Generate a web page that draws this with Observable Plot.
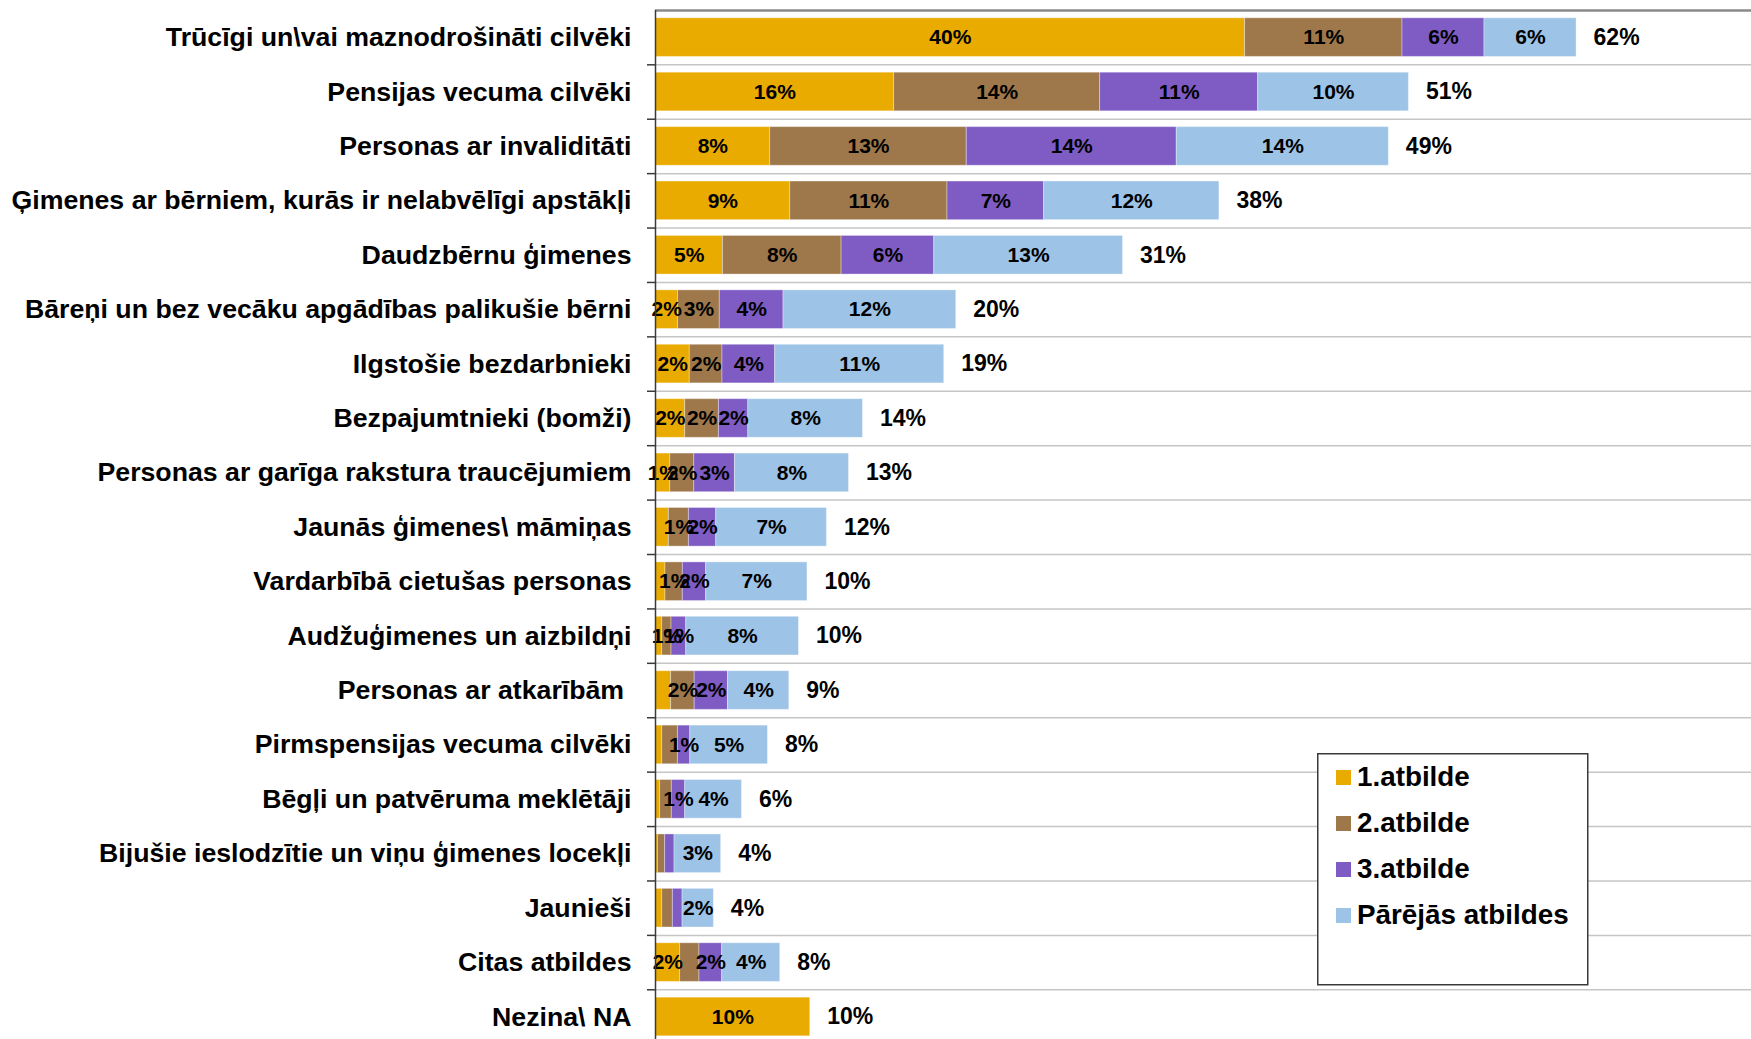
<!DOCTYPE html>
<html><head><meta charset="utf-8">
<script src="https://cdn.jsdelivr.net/npm/d3@7"></script>
<script src="https://cdn.jsdelivr.net/npm/@observablehq/plot@0.6"></script>
<style>
body{margin:0;background:#fff;}
#chart{position:relative;width:1751px;height:1039px;overflow:hidden;background:#fff;}
#legend{position:absolute;left:1317px;top:753px;}
</style></head><body><div id="chart"></div>
<script>
const categories = [
  "Trūcīgi un\\vai maznodrošināti cilvēki",
  "Pensijas vecuma cilvēki",
  "Personas ar invaliditāti",
  "Ģimenes ar bērniem, kurās ir nelabvēlīgi apstākļi",
  "Daudzbērnu ģimenes",
  "Bāreņi un bez vecāku apgādības palikušie bērni",
  "Ilgstošie bezdarbnieki",
  "Bezpajumtnieki (bomži)",
  "Personas ar garīga rakstura traucējumiem",
  "Jaunās ģimenes\\ māmiņas",
  "Vardarbībā cietušas personas",
  "Audžuģimenes un aizbildņi",
  "Personas ar atkarībām\u00a0",
  "Pirmspensijas vecuma cilvēki",
  "Bēgļi un patvēruma meklētāji",
  "Bijušie ieslodzītie un viņu ģimenes locekļi",
  "Jaunieši",
  "Citas atbildes",
  "Nezina\\ NA"
];
const seriesNames = ["1.atbilde", "2.atbilde", "3.atbilde", "Pārējās atbildes"];
const colors = ["#EAAB00", "#9E784B", "#7E5CC4", "#9DC3E6"];

const answer1      = [39.70, 16.07,  7.72,  9.07,  4.54,  1.52, 2.31, 2.00, 0.99, 0.90, 0.67, 0.45, 1.05, 0.45, 0.31, 0.16, 0.45, 1.66, 10.42];
const answer2      = [10.60, 13.87, 13.24, 10.59,  7.99,  2.81, 2.20, 2.27, 1.62, 1.35, 1.17, 0.63, 1.59, 1.06, 0.79, 0.49, 0.72, 1.30, 0];
const answer3      = [ 5.52, 10.64, 14.14,  6.51,  6.24,  4.29, 3.55, 1.98, 2.74, 1.84, 1.57, 0.99, 2.24, 0.83, 0.90, 0.63, 0.65, 1.53, 0];
const otherAnswers = [ 6.20, 10.15, 14.28, 11.80, 12.71, 11.63, 11.38, 7.72, 7.68, 7.45, 6.82, 7.59, 4.13, 5.23, 3.82, 3.14, 2.11, 3.91, 0];

// row indexes whose segment label is not shown in the original
const hiddenLabels = {
  "1.atbilde": [9, 10, 11, 12, 13, 14, 15, 16],
  "2.atbilde": [13, 14, 15, 16, 17],
  "3.atbilde": [15, 16],
  "Pārējās atbildes": []
};
const xMax = 73.8;

const seriesValues = [answer1, answer2, answer3, otherAnswers];
const rows = [];
categories.forEach((c, i) => seriesValues.forEach((vals, s) => rows.push({
  category: c, series: seriesNames[s], value: vals[i],
  showLabel: vals[i] > 0 && !hiddenLabels[seriesNames[s]].includes(i)
})));
const totals = categories.map((c, i) => ({category: c, total: d3.sum(seriesValues, v => v[i])}));
const pct = v => Math.round(v) + "%";

const yRange = [9.9, 1043.7];
const step = (yRange[1] - yRange[0]) / categories.length;
const font = "'Liberation Sans', Arial, Helvetica, sans-serif";

const plot = Plot.plot({
  width: 1751, height: 1039,
  marginLeft: 655, marginRight: 0, marginTop: 10, marginBottom: 0,
  style: {fontFamily: font, background: "white", color: "black"},
  x: {domain: [0, xMax], axis: null},
  y: {domain: categories, range: yRange, round: false, paddingInner: 0.29, paddingOuter: 0.145, label: null},
  color: {domain: seriesNames, range: colors},
  marks: [
    Plot.gridY(categories.slice(1), {dy: -step / 2, stroke: "#c6c6c6", strokeOpacity: 1, strokeWidth: 1.5}),
    Plot.gridY(categories.slice(0, 1), {dy: -step / 2, stroke: "#8a8a8a", strokeOpacity: 1, strokeWidth: 2.5}),
    Plot.barX(rows, Plot.stackX({x: "value", y: "category", fill: "series", stroke: "white", strokeOpacity: 0.35, strokeWidth: 1})),
    Plot.text(rows, Plot.stackX({x: "value", y: "category", text: d => d.showLabel ? pct(d.value) : null, fontSize: 21, fontWeight: "bold", fill: "black"})),
    Plot.text(totals, {x: "total", y: "category", text: d => pct(d.total), textAnchor: "start", dx: 17, fontSize: 23, fontWeight: "bold", fill: "black"}),
    Plot.ruleX([0], {stroke: "#3a3a3a", strokeWidth: 1.5}),
    Plot.axisY({ticks: categories.slice(1), tickSize: 8, dy: -step / 2, tickFormat: () => "", label: null, stroke: "#3a3a3a", strokeWidth: 1.5}),
    Plot.axisY({tickSize: 0, tickPadding: 24, fontSize: 26.7, fontWeight: "bold", label: null})
  ]
});
const chart = document.getElementById("chart");
chart.appendChild(plot);

// legend box
const lw = 270, lh = 231;
const leg = d3.select(chart).append("svg").attr("id", "legend")
  .attr("width", lw + 2).attr("height", lh + 2)
  .style("font-family", font);
leg.append("rect").attr("x", 0.75).attr("y", 0.75).attr("width", lw).attr("height", lh)
  .attr("fill", "white").attr("stroke", "#3a3a3a").attr("stroke-width", 1.5);
const item = leg.selectAll("g").data(seriesNames).join("g")
  .attr("transform", (d, i) => `translate(19,${17 + i * 46})`);
item.append("rect").attr("width", 15).attr("height", 15).attr("fill", (d, i) => colors[i]);
item.append("text").attr("x", 21).attr("y", 16).attr("font-size", 27.8).attr("font-weight", "bold")
  .attr("fill", "black").text(d => d);
</script></body></html>
